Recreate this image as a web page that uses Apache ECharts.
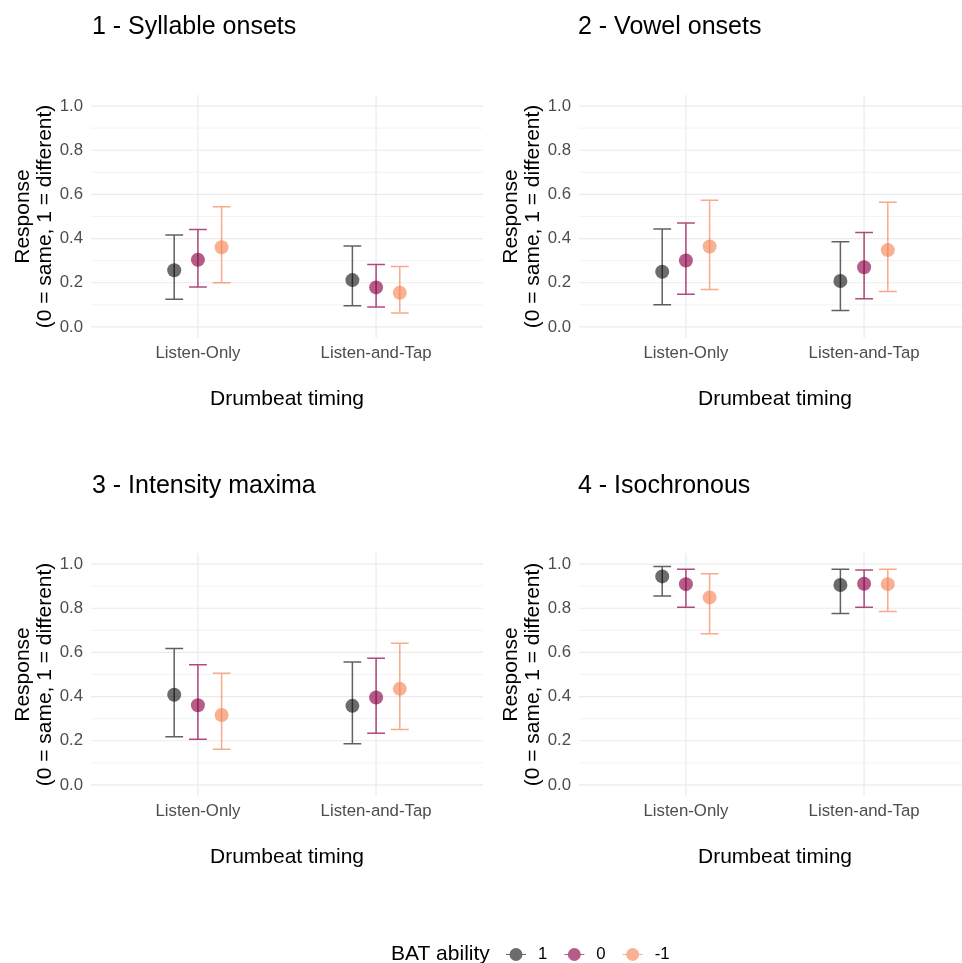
<!DOCTYPE html>
<html>
<head>
<meta charset="utf-8">
<script src="https://cdn.jsdelivr.net/npm/echarts@6/dist/echarts.min.js"></script>
<style>html,body{margin:0;padding:0;background:#fff;overflow:hidden}#c{width:980px;height:963px}</style>
</head>
<body>
<div id="c"></div>
<script>
// ---- data ----
const categories = ['Listen-Only', 'Listen-and-Tap'];
const groups = ['1', '0', '-1'];
const panelTitles = ['1 - Syllable onsets', '2 - Vowel onsets', '3 - Intensity maxima', '4 - Isochronous'];
const yTicks = [0, 0.2, 0.4, 0.6, 0.8, 1.0];
const yMinorTicks = [0.1, 0.3, 0.5, 0.7, 0.9];
const xTicks = [1, 2];
const dodge = [-0.133, 0, 0.133];

// values: [category][group]  (group order: 1, 0, -1)
const syllableMean  = [[0.257, 0.304, 0.361], [0.212, 0.179, 0.155]];
const syllableLower = [[0.125, 0.181, 0.200], [0.096, 0.090, 0.063]];
const syllableUpper = [[0.416, 0.441, 0.544], [0.367, 0.283, 0.274]];

const vowelMean  = [[0.250, 0.301, 0.364], [0.208, 0.270, 0.348]];
const vowelLower = [[0.101, 0.148, 0.170], [0.075, 0.128, 0.160]];
const vowelUpper = [[0.443, 0.471, 0.574], [0.386, 0.428, 0.565]];

const intensityMean  = [[0.408, 0.361, 0.317], [0.358, 0.396, 0.435]];
const intensityLower = [[0.218, 0.207, 0.162], [0.187, 0.234, 0.251]];
const intensityUpper = [[0.618, 0.544, 0.506], [0.557, 0.574, 0.642]];

const isoMean  = [[0.944, 0.909, 0.849], [0.905, 0.911, 0.909]];
const isoLower = [[0.855, 0.804, 0.684], [0.776, 0.804, 0.785]];
const isoUpper = [[0.989, 0.976, 0.956], [0.977, 0.973, 0.976]];

const panels = [
  [syllableMean, syllableLower, syllableUpper],
  [vowelMean, vowelLower, vowelUpper],
  [intensityMean, intensityLower, intensityUpper],
  [isoMean, isoLower, isoUpper]
];

// ---- styles ----
const FONT = 'Liberation Sans, Arial, Helvetica, sans-serif';
const pointColors = ['rgba(0,0,4,0.72)', 'rgba(140,0,70,0.8)', 'rgba(245,125,75,0.75)'];
const lineColors  = ['rgba(0,0,4,0.62)', 'rgba(140,0,70,0.7)', 'rgba(245,125,75,0.65)'];
const gridPos = [
  {left: 91, top: 95, width: 392, height: 243},
  {left: 579, top: 95, width: 392, height: 243},
  {left: 91, top: 553, width: 392, height: 243},
  {left: 579, top: 553, width: 392, height: 243}
];
const titlePos = [[92, 15], [578, 15], [92, 474], [578, 474]];
const capHalf = 0.05;

const grids = [], xAxes = [], yAxes = [], series = [], titles = [];

panels.forEach((p, i) => {
  grids.push(Object.assign({containLabel: false}, gridPos[i]));
  titles.push({
    text: panelTitles[i], left: titlePos[i][0], top: titlePos[i][1], padding: 0,
    textStyle: {fontSize: 25, fontWeight: 'normal', color: '#000', fontFamily: FONT}
  });
  xAxes.push({
    gridIndex: i, type: 'value', min: 0.4, max: 2.6,
    axisLine: {show: false}, axisTick: {show: false}, splitLine: {show: false},
    axisLabel: {customValues: xTicks, formatter: v => categories[Math.round(v) - 1],
      color: '#4D4D4D', fontSize: 16.8, fontFamily: FONT, margin: 7},
    name: 'Drumbeat timing', nameLocation: 'middle', nameGap: 51,
    nameTextStyle: {fontSize: 21, color: '#000', fontFamily: FONT}
  });
  yAxes.push({
    gridIndex: i, type: 'value', min: -0.05, max: 1.05,
    axisLine: {show: false}, axisTick: {show: false}, splitLine: {show: false},
    axisLabel: {customValues: yTicks, formatter: v => v.toFixed(1),
      color: '#4D4D4D', fontSize: 16.8, fontFamily: FONT, margin: 8},
    name: 'Response\n(0 = same, 1 = different)',
    nameLocation: 'middle', nameGap: 31, nameRotate: 90,
    nameTextStyle: {fontSize: 21, color: '#000', fontFamily: FONT, lineHeight: 22}
  });
  // horizontal gridlines
  series.push({
    type: 'custom', name: 'hgrid' + i, xAxisIndex: i, yAxisIndex: i, z: 0, silent: true,
    encode: {x: 0, y: 1},
    data: yTicks.map(v => [1, v, 1]).concat(yMinorTicks.map(v => [1, v, 0])),
    renderItem: (params, api) => {
      const cs = params.coordSys;
      const y = api.coord([1, api.value(1)])[1];
      const major = api.value(2) === 1;
      return {type: 'line', shape: {x1: cs.x, y1: y, x2: cs.x + cs.width, y2: y},
        style: {stroke: major ? '#EBEBEB' : '#F0F0F0', lineWidth: major ? 1.2 : 0.8}};
    }
  });
  // vertical gridlines
  series.push({
    type: 'custom', name: 'vgrid' + i, xAxisIndex: i, yAxisIndex: i, z: 0, silent: true,
    encode: {x: 0, y: 1},
    data: xTicks.map(v => [v, 0.5]),
    renderItem: (params, api) => {
      const cs = params.coordSys;
      const x = api.coord([api.value(0), 0.5])[0];
      return {type: 'line', shape: {x1: x, y1: cs.y, x2: x, y2: cs.y + cs.height},
        style: {stroke: '#EBEBEB', lineWidth: 1.2}};
    }
  });
  const [mean, lower, upper] = p;
  groups.forEach((g, gi) => {
    // error bars
    series.push({
      type: 'custom', name: 'eb' + g, xAxisIndex: i, yAxisIndex: i, z: 2, silent: true,
      encode: {x: 0, y: [1, 2]},
      data: categories.map((c, ci) => [ci + 1 + dodge[gi], lower[ci][gi], upper[ci][gi]]),
      renderItem: (params, api) => {
        const x = api.value(0);
        const pLo = api.coord([x, api.value(1)]);
        const pHi = api.coord([x, api.value(2)]);
        const half = api.coord([x + capHalf, api.value(1)])[0] - pLo[0];
        const style = {stroke: lineColors[gi], lineWidth: 1.5, fill: null};
        return {type: 'path', shape: {
            pathData: `M${pLo[0]},${pLo[1]}L${pHi[0]},${pHi[1]}M${pLo[0]-half},${pLo[1]}L${pLo[0]+half},${pLo[1]}M${pHi[0]-half},${pHi[1]}L${pHi[0]+half},${pHi[1]}`
          }, style: style};
      }
    });
    // points
    series.push({
      type: 'scatter', name: g, xAxisIndex: i, yAxisIndex: i, z: 3,
      symbolSize: 14,
      itemStyle: {color: pointColors[gi]},
      data: categories.map((c, ci) => [ci + 1 + dodge[gi], mean[ci][gi]])
    });
  });
});

titles.push({
  text: 'BAT ability', left: 391, top: 944, padding: 0,
  textStyle: {fontSize: 21, fontWeight: 'normal', color: '#000', fontFamily: FONT}
});

const legendIcon = 'path://M0,5.9H20V7.1H0Z M16.5,6.5A6.5,6.5 0 1,1 3.5,6.5A6.5,6.5 0 1,1 16.5,6.5Z';

const option = {
  animation: false,
  backgroundColor: '#fff',
  title: titles,
  grid: grids,
  xAxis: xAxes,
  yAxis: yAxes,
  legend: {
    data: groups.map(g => ({name: g, icon: legendIcon})),
    left: 501, top: 941, padding: 5, orient: 'horizontal', itemWidth: 20, itemHeight: 13, itemGap: 17,
    selectedMode: false,
    textStyle: {fontSize: 16.8, color: '#000', fontFamily: FONT, padding: [0, 0, 0, 7]}
  },
  series: series
};

const chart = echarts.init(document.getElementById('c'), null, {renderer: 'canvas'});
chart.setOption(option);
</script>
</body>
</html>
